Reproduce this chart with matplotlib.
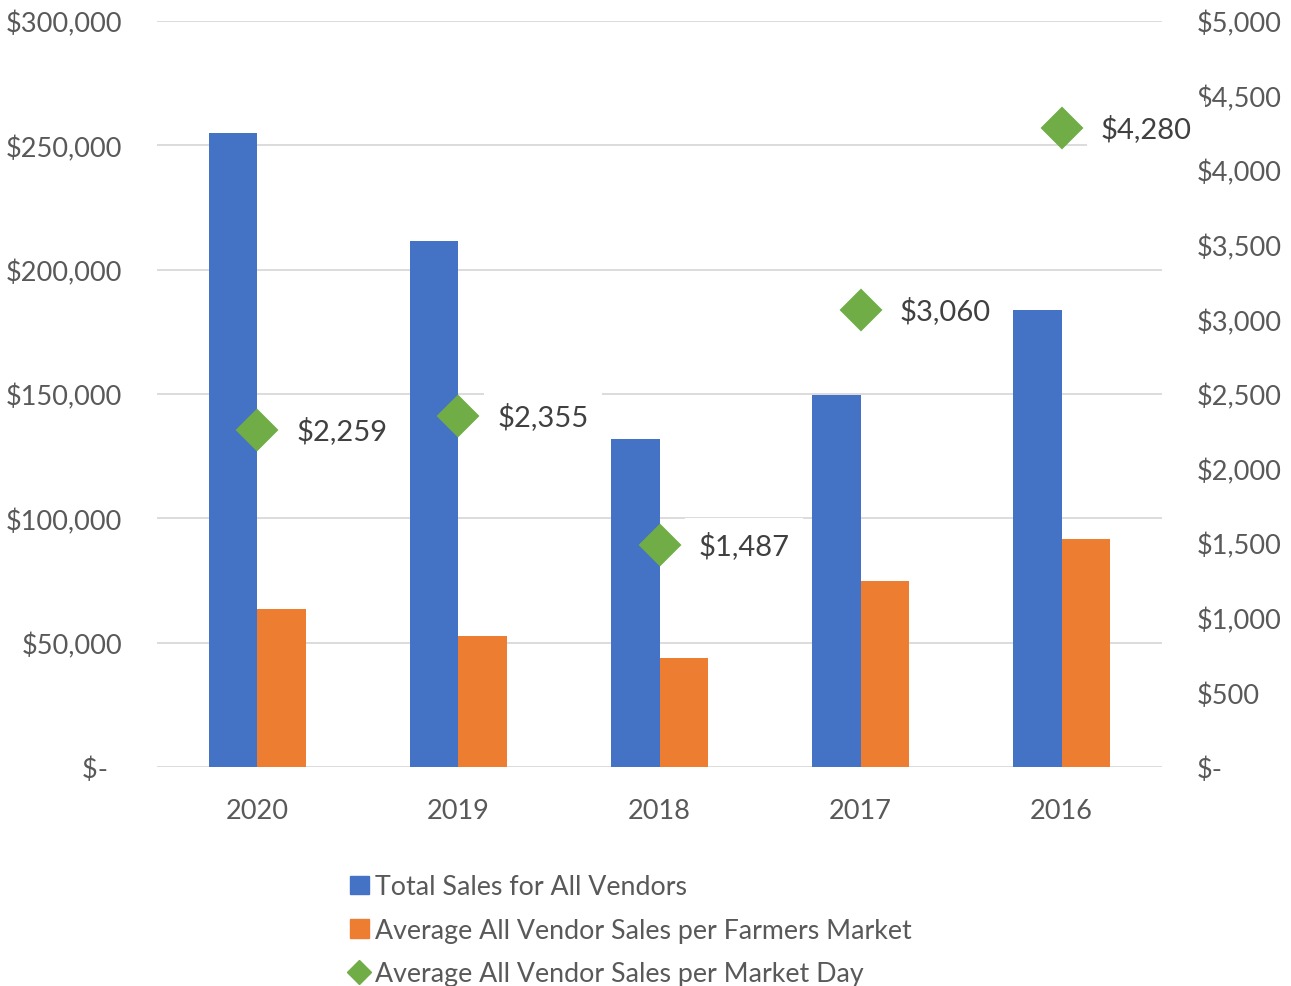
import matplotlib
matplotlib.use("Agg")
import matplotlib.pyplot as plt
from matplotlib.patches import Patch
from matplotlib.lines import Line2D
from matplotlib.ticker import FuncFormatter

# Daten
years = ["2020", "2019", "2018", "2017", "2016"]
total_sales = [255000, 211500, 132000, 149700, 183800]
avg_per_market = [63500, 52700, 43800, 74800, 91700]
avg_per_day = [2259, 2355, 1487, 3060, 4280]

BLUE = "#4472C4"
ORANGE = "#ED7D31"
GREEN = "#70AD47"
TICK = "#595959"
LABEL = "#404040"
GRID = "#D9D9D9"

plt.rcParams["font.family"] = ["Lato", "DejaVu Sans"]


def dollar(v, p):
    # Buchhaltungsformat: Null als "$-"
    return "$-  " if v == 0 else f"${v:,.0f}"


fig = plt.figure(figsize=(12.91, 9.87), dpi=100)
ax = fig.add_axes([0.1216, 0.2219, 0.7785, 0.7558])
ax2 = ax.twinx()

x = list(range(len(years)))
w = 0.24

# Balken
ax.bar([i - w / 2 for i in x], total_sales, width=w, color=BLUE, zorder=2)
ax.bar([i + w / 2 for i in x], avg_per_market, width=w, color=ORANGE, zorder=2)

ax.set_xlim(-0.5, len(years) - 0.5)
ax.set_ylim(0, 300000)
ax.set_yticks(range(0, 300001, 50000))
ax.yaxis.set_major_formatter(FuncFormatter(dollar))
ax.set_xticks(x)
ax.set_xticklabels(years)
ax.grid(axis="y", color=GRID, linewidth=1.3, zorder=0)
ax.set_axisbelow(True)

# Rauten auf Sekundärachse
ax2.set_ylim(0, 5000)
ax2.set_yticks(range(0, 5001, 500))
ax2.yaxis.set_major_formatter(FuncFormatter(lambda v, p: "$-" if v == 0 else f"${v:,.0f}"))
ax2.plot(x, avg_per_day, linestyle="none", marker="D", markersize=20,
         color=GREEN, markeredgecolor=GREEN, markeredgewidth=1.5, zorder=3)
for i, v in zip(x, avg_per_day):
    ax2.annotate(f"${v:,.0f}", (i, v), xytext=(28, 0), textcoords="offset points",
                 ha="left", va="center", fontsize=21, color=LABEL, zorder=4,
                 bbox=dict(boxstyle="square,pad=0.45", fc="white", ec="none"),
                 annotation_clip=False)

for a in (ax, ax2):
    for s in a.spines.values():
        s.set_visible(False)
    a.tick_params(length=0, labelsize=19.5, labelcolor=TICK)
ax.tick_params(axis="y", pad=25)
ax2.tick_params(axis="y", pad=25)
ax.tick_params(axis="x", pad=22)

# Legende
handles = [
    Patch(color=BLUE),
    Patch(color=ORANGE),
    Line2D([], [], linestyle="none", marker="D", markersize=12, color=GREEN),
]
labels = [
    "Total Sales for All Vendors",
    "Average All Vendor Sales per Farmers Market",
    "Average All Vendor Sales per Market Day",
]
fig.legend(handles, labels, loc="upper left", bbox_to_anchor=(0.271, 0.113),
           frameon=False, fontsize=19.3, labelcolor=TICK, handlelength=0.7,
           handleheight=0.7, handletextpad=0.25, labelspacing=0.69,
           borderaxespad=0, borderpad=0)

fig.savefig("out.png", dpi=100)
plt.close(fig)
